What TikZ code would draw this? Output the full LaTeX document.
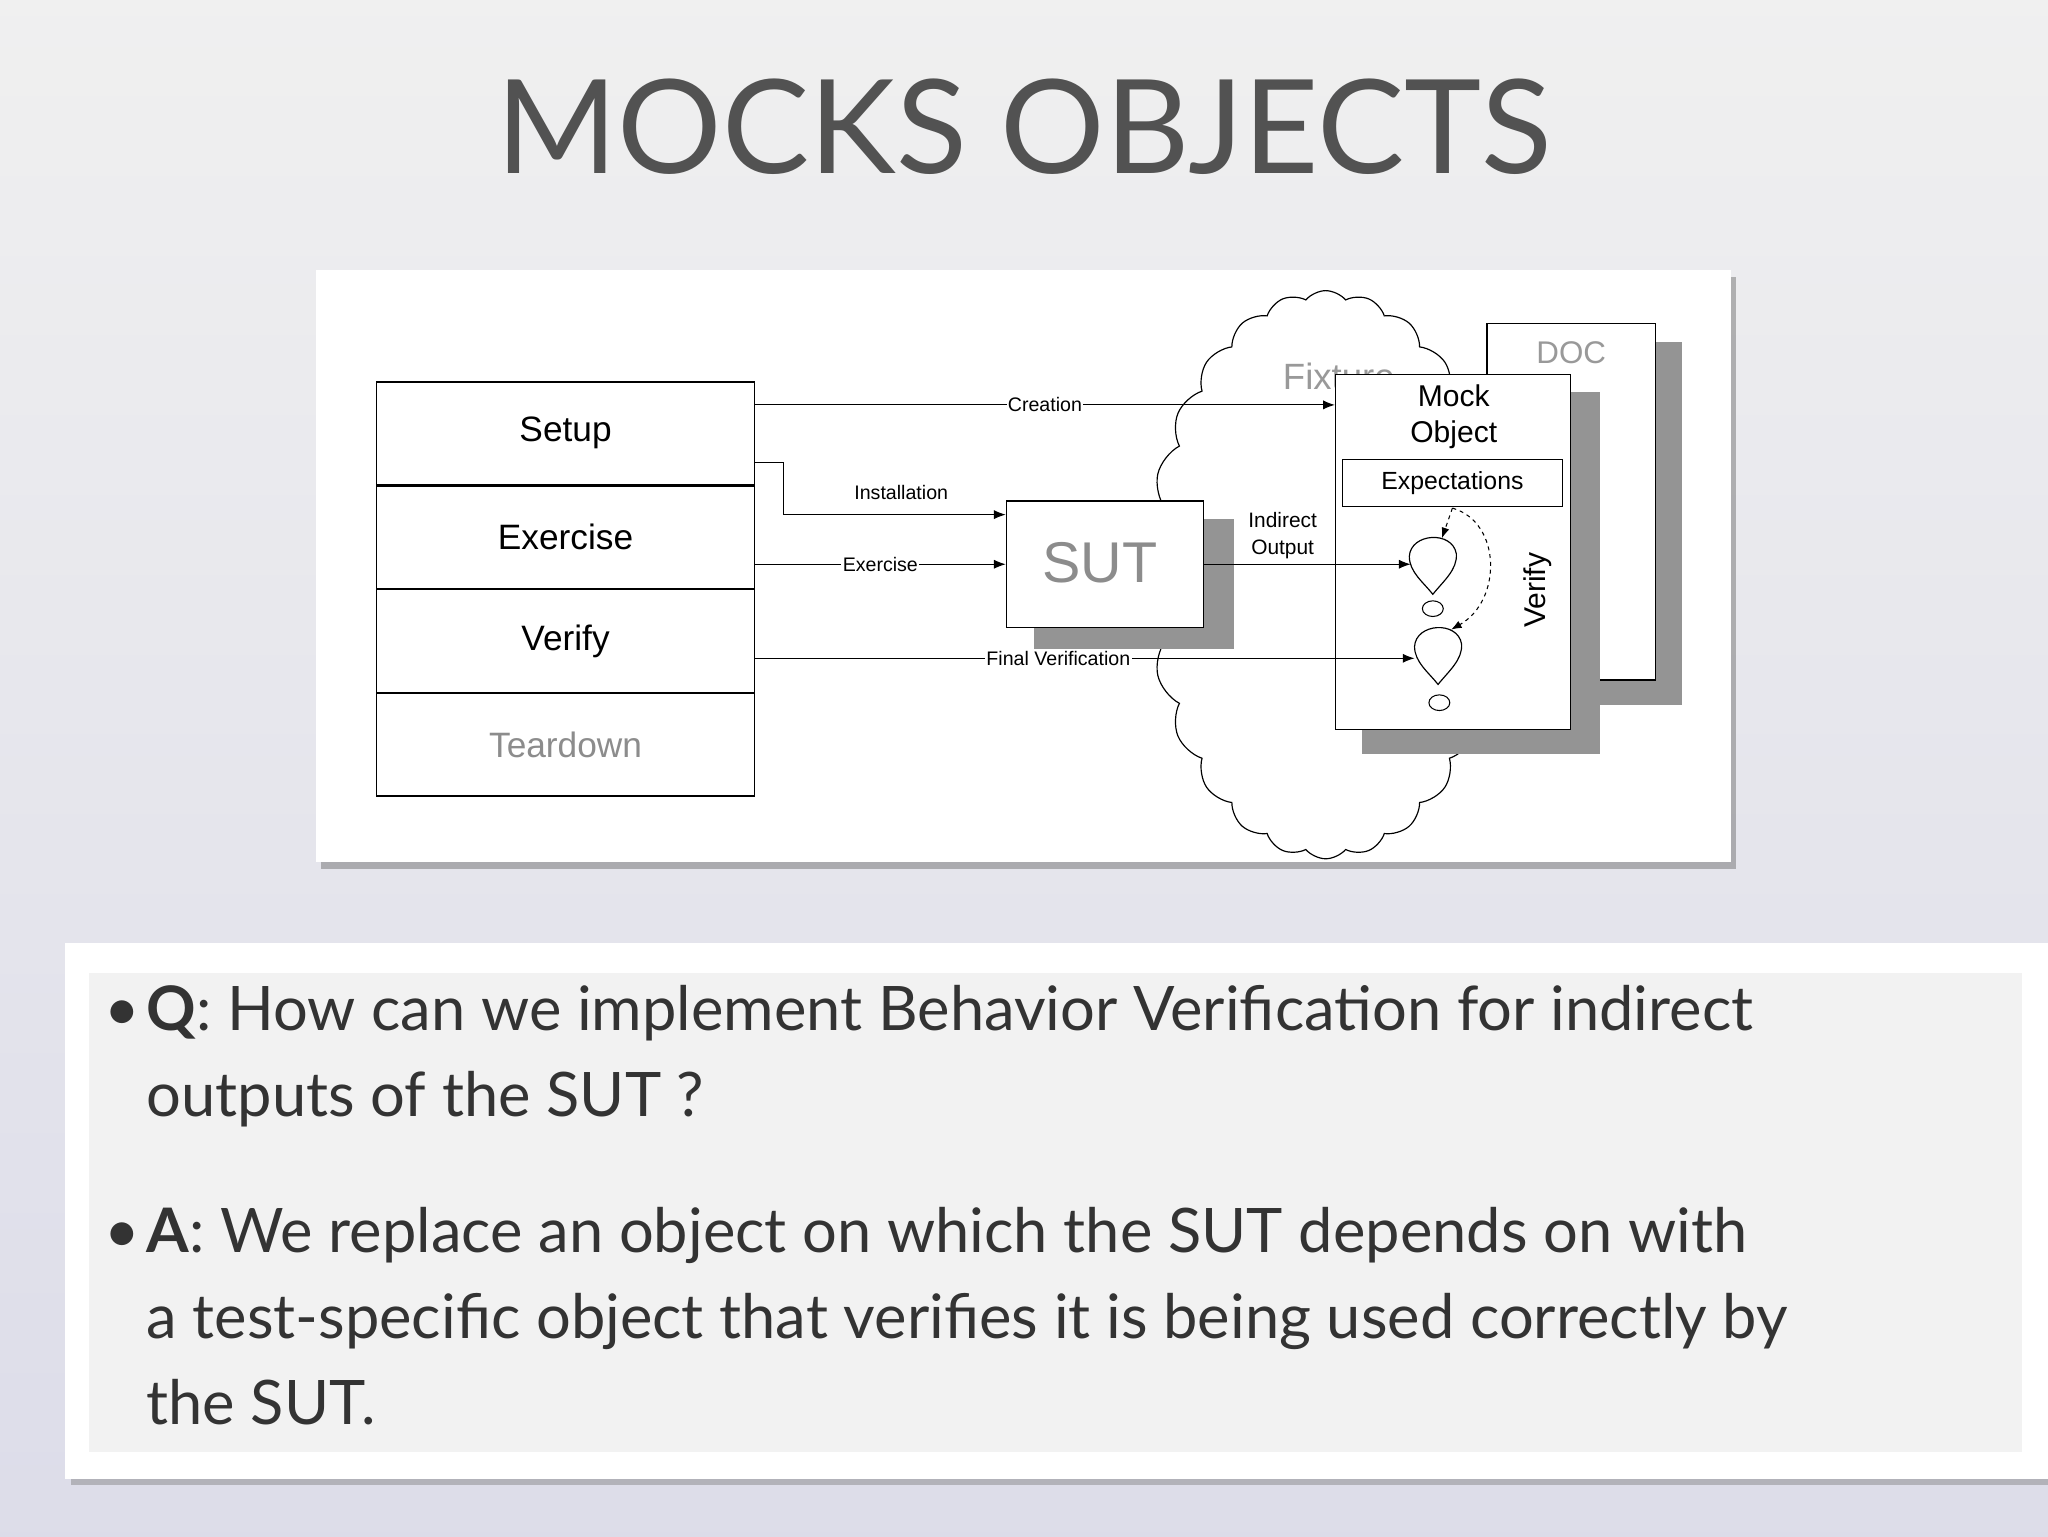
\documentclass[tikz,border=0pt]{standalone}
\usepackage{fontspec}
\setmainfont{Lato}
\newfontfamily\dfont{Liberation Sans}
\usetikzlibrary{shapes.symbols,arrows.meta}
\begin{document}
\begin{tikzpicture}[x=1pt,y=-1pt,
  ar/.style={-{Latex[length=9pt,width=7pt]},line width=0.8pt},
  lbl/.style={fill=white,inner sep=1pt,font=\dfont\fontsize{15}{17}\selectfont},
  cell/.style={draw,line width=1pt,minimum width=289pt,minimum height=78.5pt,font=\dfont\fontsize{27}{30}\selectfont,inner sep=0pt},
  drop/.style={draw,line width=0.9pt,fill=white}]
\useasboundingbox (0,0) rectangle (1568,1176);
\shade[top color=white!88!gray, bottom color=white!82!gray!95!blue] (0,0) rectangle (1568,1176);
\node[text=black!68,font=\fontsize{100}{110}\selectfont] (title) at (784,97) {MOCKS OBJECTS};
% diagram panel
\fill[black!55,opacity=0.5] (246,212) rectangle (1329,665);
\fill[white] (242,207) rectangle (1325,660);
% cloud
\node[cloud,draw,line width=0.9pt,cloud puffs=26,cloud puff arc=100,minimum width=275pt,minimum height=435pt,aspect=0.63] (cloud) at (1015,440) {};
\node[text=black!40,font=\dfont\fontsize{28}{30}\selectfont] (fix) at (1025,288) {Fixture};
% DOC
\fill[black!42] (1160,262) rectangle (1288,540);
\node[draw,fill=white,line width=1pt,minimum width=129pt,minimum height=273pt,anchor=north west,inner sep=0pt] (doc) at (1138,247) {};
\node[text=black!40,font=\dfont\fontsize{24}{26}\selectfont] (doct) at (1203,270) {DOC};
% mock
\fill[black!42] (1043,300) rectangle (1225,577);
\node[draw,fill=white,line width=1pt,minimum width=180pt,minimum height=272pt,anchor=north west,inner sep=0pt] (mock) at (1022,286) {};
\node[font=\dfont\fontsize{23}{28}\selectfont,align=center] (mockt) at (1113,319) {Mock\\Object};
\node[draw,line width=0.8pt,minimum width=168pt,minimum height=36pt,inner sep=0pt,font=\dfont\fontsize{19}{21}\selectfont] (exp) at (1112,370) {Expectations};
\node[rotate=90,font=\dfont\fontsize{23}{25}\selectfont] (ver) at (1177,452) {Verify};
% drops
\draw[drop] (1097,455) .. controls (1090,446) and (1079,438) .. (1079,426) .. controls (1080,408) and (1112,406) .. (1115,424) .. controls (1116,436) and (1105,445) .. cycle;
\coordinate (d1) at (1080,432);
\draw[drop] (1101,524) .. controls (1094,515) and (1083,507) .. (1083,495) .. controls (1084,477) and (1116,475) .. (1119,493) .. controls (1120,505) and (1109,514) .. cycle;
\coordinate (d2) at (1083,504);
\draw[line width=0.8pt] (1097,466) ellipse (8 and 6);
\draw[line width=0.8pt] (1102,538) ellipse (8 and 6);
\coordinate (e1) at (1112,389);
\coordinate (t1) at (1104,412);
\coordinate (t2) at (1111,482);
\draw[-{Latex[length=8pt]},dashed,line width=0.8pt] (e1) -- (t1);
\draw[-{Latex[length=8pt]},dashed,line width=0.8pt] (e1) .. controls (1150,400) and (1150,460) .. (t2);
% SUT
\fill[black!42] (792,397) rectangle (945,497);
\node[draw,fill=white,line width=1pt,minimum width=151pt,minimum height=97pt,anchor=north west,inner sep=0pt] (sut) at (770,383) {};
\node[text=black!45,font=\dfont\fontsize{44}{46}\selectfont] (sutt) at (842,431) {SUT};
% phases
\node[cell,anchor=north west] (setup) at (288,292) {Setup};
\node[cell,anchor=north] (exer) at (setup.south) {Exercise};
\node[cell,anchor=north] (verify) at (exer.south) {Verify};
\node[cell,anchor=north,text=black!45] (tear) at (verify.south) {Teardown};
% connectors
\draw[ar] (setup.east |- 0,310) -- node[lbl,pos=0.5] {Creation} (mock.west |- 0,310);
\coordinate (i1) at (600,354);
\draw[ar] (setup.east |- i1) -- (i1) |- (sut.west |- 0,394);
\node[lbl] (inst) at (690,377) {Installation};
\draw[ar] (exer.east |- 0,432) -- node[lbl,pos=0.5] {Exercise} (sut.west |- 0,432);
\draw[ar] (sut.east |- d1) -- (d1);
\node[lbl,align=center,fill=none,font=\dfont\fontsize{16}{21}\selectfont] (io) at (982,410) {Indirect\\Output};
\draw[ar] (verify.east |- d2) -- node[lbl,pos=0.46] {Final Verification} (d2);
% bottom panel
\fill[black!55,opacity=0.4] (54,727) rectangle (1568,1137);
\fill[white] (50,722) rectangle (1568,1132);
\fill[white!90!gray] (68,745) rectangle (1548,1112);
\node[anchor=north west,align=left,font=\fontsize{47}{66}\selectfont,text=black!80,inner sep=0pt] (txt) at (80,754) {%
\makebox[32pt][l]{\textbullet}\textbf{Q}: How can we implement Behavior Verification for indirect\\
\hspace*{32pt}outputs of the SUT ?\\[38pt]
\makebox[32pt][l]{\textbullet}\textbf{A}: We replace an object on which the SUT depends on with\\
\hspace*{32pt}a test-specific object that verifies it is being used correctly by\\
\hspace*{32pt}the SUT.};
\end{tikzpicture}
\end{document}
